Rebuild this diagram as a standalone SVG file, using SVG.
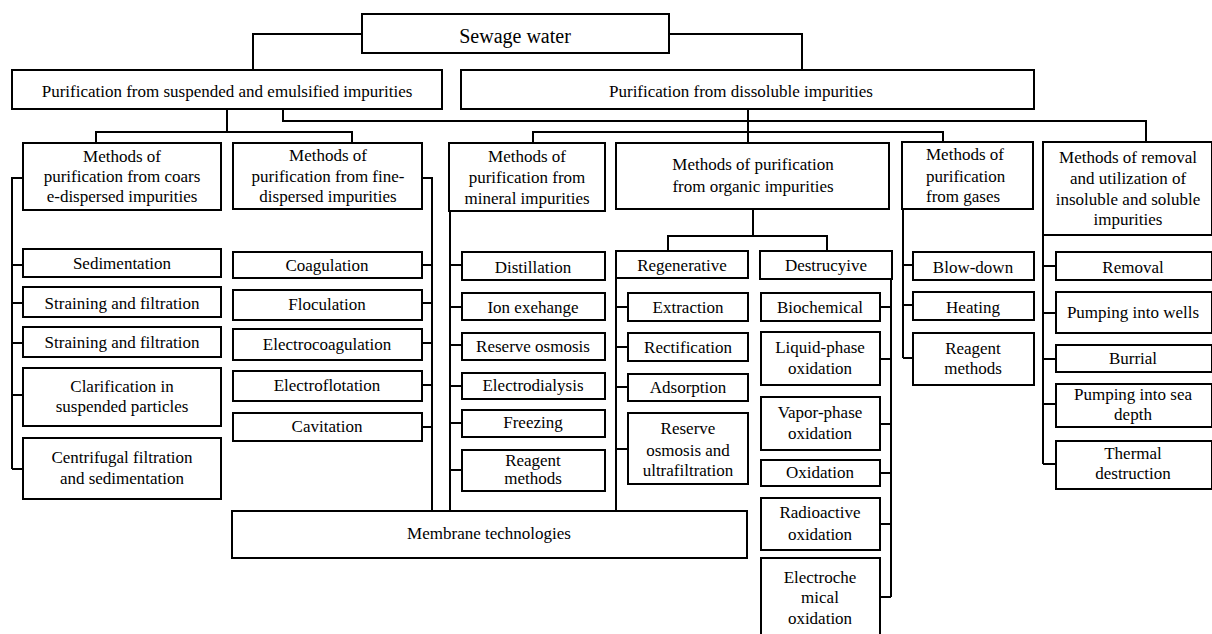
<svg xmlns="http://www.w3.org/2000/svg" width="1212" height="634" viewBox="0 0 1212 634">
<style>
.box{fill:#fff;stroke:#000;stroke-width:2}
.conn{fill:none;stroke:#000;stroke-width:2}
.t text{font-size:17px;fill:#000;text-anchor:middle}
.t text.big{font-size:20px}
.t text.left{text-anchor:start}
</style>
<rect width="1212" height="634" fill="#fff"/>
<g id="connectors" class="conn">
<path d="M362,34 H253 V70"/>
<path d="M669,34 H802 V70"/>
<path d="M227,109 V132"/>
<path d="M96,143 V132 H352 V143"/>
<path d="M283,109 V121 H1146 V142"/>
<path d="M748,109 V143"/>
<path d="M533,143 V132 H943 V142"/>
<path d="M753,209 V236"/>
<path d="M668,251 V236 H827 V251"/>
<path d="M23,178 H12 V469 M12,265 H23 M12,303 H23 M12,343 H23 M12,395 H23 M12,469 H23"/>
<path d="M422,178 H432 V511 M422,265 H432 M422,303 H432 M422,343 H432 M422,385 H432 M422,427 H432"/>
<path d="M450,211 V511 M450,265 H462 M450,307 H462 M450,345 H462 M450,386 H462 M450,423 H462 M450,470 H462"/>
<path d="M616,278 V511 M616,307 H628 M616,347 H628 M616,387 H628 M616,449 H628"/>
<path d="M891,279 V597 M880,307 H891 M880,359 H891 M880,424 H891 M880,473 H891 M880,524 H891 M880,597 H891"/>
<path d="M903,209 V358 M903,265 H913 M903,305 H913 M903,358 H913"/>
<path d="M1043,235 V464 M1043,266 H1056 M1043,313 H1056 M1043,359 H1056 M1043,404 H1056 M1043,464 H1056"/>
</g>
<g class="t" font-family="'Liberation Serif', 'DejaVu Serif', 'Times New Roman', serif">
<g id="sewage"><rect class="box" x="362" y="14" width="307" height="39"/><text class="big" x="515" y="43">Sewage water</text></g>
<g id="purif-suspended"><rect class="box" x="12" y="70" width="430" height="39"/><text x="227" y="97">Purification  from suspended and emulsified impurities</text></g>
<g id="purif-dissoluble"><rect class="box" x="461" y="70" width="573" height="39"/><text x="741" y="97">Purification  from dissoluble impurities</text></g>

<g id="coarse"><rect class="box" x="23" y="143" width="198" height="67"/><text x="122" y="162">Methods  of</text><text x="122" y="182">purification  from coars</text><text x="122" y="202">e-dispersed impurities</text></g>
<g id="fine"><rect class="box" x="233" y="143" width="189" height="66"/><text x="328" y="161">Methods  of</text><text x="328" y="182">purification  from fine-</text><text x="328" y="202">dispersed impurities</text></g>
<g id="mineral"><rect class="box" x="449" y="143" width="156" height="68"/><text x="527" y="162">Methods  of</text><text x="527" y="183">purification  from</text><text x="527" y="204">mineral  impurities</text></g>
<g id="organic"><rect class="box" x="616" y="143" width="273" height="66"/><text x="753" y="170">Methods  of purification</text><text x="753" y="192">from organic impurities</text></g>
<g id="gases"><rect class="box" x="902" y="142" width="131" height="67"/><text class="left" x="926" y="160">Methods of</text><text class="left" x="926" y="182">purification</text><text class="left" x="926" y="202">from gases</text></g>
<g id="removal-methods"><rect class="box" x="1043" y="142" width="169" height="93"/><text x="1128" y="163">Methods of removal</text><text x="1128" y="184">and utilization of</text><text x="1128" y="205">insoluble and soluble</text><text x="1128" y="225">impurities</text></g>

<g id="sedimentation"><rect class="box" x="23" y="249" width="198" height="28"/><text x="122" y="269">Sedimentation</text></g>
<g id="straining1"><rect class="box" x="23" y="287" width="198" height="30"/><text x="122" y="309">Straining  and filtration</text></g>
<g id="straining2"><rect class="box" x="23" y="327" width="198" height="30"/><text x="122" y="348">Straining  and filtration</text></g>
<g id="clarification"><rect class="box" x="23" y="368" width="198" height="58"/><text x="122" y="392">Clarification    in</text><text x="122" y="412">suspended particles</text></g>
<g id="centrifugal"><rect class="box" x="23" y="438" width="198" height="61"/><text x="122" y="463">Centrifugal  filtration</text><text x="122" y="484">and sedimentation</text></g>

<g id="coagulation"><rect class="box" x="233" y="252" width="189" height="26"/><text x="327" y="271">Coagulation</text></g>
<g id="floculation"><rect class="box" x="233" y="290" width="189" height="30"/><text x="327" y="310">Floculation</text></g>
<g id="electrocoagulation"><rect class="box" x="233" y="329" width="189" height="31"/><text x="327" y="350">Electrocoagulation</text></g>
<g id="electroflotation"><rect class="box" x="233" y="371" width="189" height="30"/><text x="327" y="391">Electroflotation</text></g>
<g id="cavitation"><rect class="box" x="233" y="413" width="189" height="28"/><text x="327" y="432">Cavitation</text></g>

<g id="distillation"><rect class="box" x="462" y="252" width="143" height="28"/><text x="533" y="273">Distillation</text></g>
<g id="ion-exchange"><rect class="box" x="462" y="293" width="143" height="27"/><text x="533" y="313">Ion  exehange</text></g>
<g id="reserve-osmosis"><rect class="box" x="462" y="333" width="143" height="27"/><text x="533" y="352">Reserve  osmosis</text></g>
<g id="electrodialysis"><rect class="box" x="462" y="373" width="143" height="26"/><text x="533" y="391">Electrodialysis</text></g>
<g id="freezing"><rect class="box" x="462" y="410" width="143" height="27"/><text x="533" y="428">Freezing</text></g>
<g id="reagent-mineral"><rect class="box" x="462" y="450" width="143" height="41"/><text x="533" y="466">Reagent</text><text x="533" y="484">methods</text></g>

<g id="regenerative"><rect class="box" x="616" y="251" width="132" height="27"/><text x="682" y="271">Regenerative</text></g>
<g id="destructive"><rect class="box" x="760" y="251" width="132" height="28"/><text x="826" y="271">Destrucyive</text></g>

<g id="extraction"><rect class="box" x="628" y="293" width="120" height="28"/><text x="688" y="313">Extraction</text></g>
<g id="rectification"><rect class="box" x="628" y="333" width="120" height="28"/><text x="688" y="353">Rectification</text></g>
<g id="adsorption"><rect class="box" x="628" y="374" width="120" height="27"/><text x="688" y="393">Adsorption</text></g>
<g id="reserve-ultra"><rect class="box" x="628" y="413" width="120" height="71"/><text x="688" y="434">Reserve</text><text x="688" y="456">osmosis  and</text><text x="688" y="476">ultrafiltration</text></g>

<g id="biochemical"><rect class="box" x="761" y="293" width="119" height="28"/><text x="820" y="313">Biochemical</text></g>
<g id="liquid-phase"><rect class="box" x="761" y="332" width="119" height="53"/><text x="820" y="353">Liquid-phase</text><text x="820" y="374">oxidation</text></g>
<g id="vapor-phase"><rect class="box" x="761" y="397" width="119" height="53"/><text x="820" y="418">Vapor-phase</text><text x="820" y="439">oxidation</text></g>
<g id="oxidation"><rect class="box" x="761" y="460" width="119" height="26"/><text x="820" y="478">Oxidation</text></g>
<g id="radioactive"><rect class="box" x="761" y="498" width="119" height="52"/><text x="820" y="518">Radioactive</text><text x="820" y="540">oxidation</text></g>
<g id="electrochemical"><rect class="box" x="761" y="558" width="119" height="84"/><text x="820" y="583">Electroche</text><text x="820" y="603">mical</text><text x="820" y="624">oxidation</text></g>

<g id="blow-down"><rect class="box" x="913" y="252" width="121" height="28"/><text x="973" y="273">Blow-down</text></g>
<g id="heating"><rect class="box" x="913" y="292" width="121" height="28"/><text x="973" y="313">Heating</text></g>
<g id="reagent-gases"><rect class="box" x="913" y="333" width="121" height="52"/><text x="973" y="354">Reagent</text><text x="973" y="374">methods</text></g>

<g id="removal"><rect class="box" x="1056" y="252" width="156" height="28"/><text x="1133" y="273">Removal</text></g>
<g id="pumping-wells"><rect class="box" x="1056" y="292" width="156" height="41"/><text x="1133" y="318">Pumping  into wells</text></g>
<g id="burrial"><rect class="box" x="1056" y="345" width="156" height="27"/><text x="1133" y="364">Burrial</text></g>
<g id="pumping-sea"><rect class="box" x="1056" y="384" width="156" height="43"/><text x="1133" y="400">Pumping  into sea</text><text x="1133" y="420">depth</text></g>
<g id="thermal"><rect class="box" x="1056" y="441" width="156" height="48"/><text x="1133" y="459">Thermal</text><text x="1133" y="479">destruction</text></g>

<g id="membrane"><rect class="box" x="232" y="511" width="515" height="47"/><text x="489" y="539">Membrane technologies</text></g>
</g>
</svg>
